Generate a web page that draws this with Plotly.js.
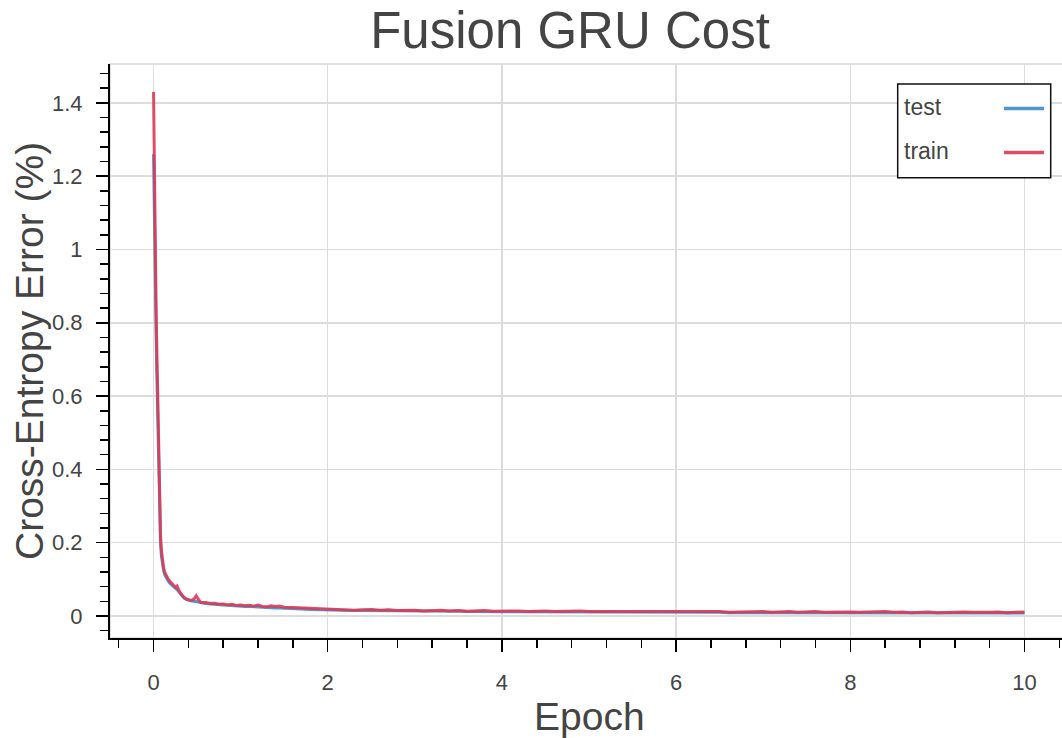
<!DOCTYPE html>
<html>
<head>
<meta charset="utf-8">
<script src="https://cdn.plot.ly/plotly-3.0.1.min.js"></script>
<style>
html, body { margin: 0; padding: 0; overflow: hidden; background: #fff; }
#chart { width: 1068px; height: 738px; }
</style>
</head>
<body>
<div id="chart"></div>
<script>
// Epoch positions
const epochs = [0,0.005,0.01,0.015,0.02,0.025,0.03,0.035,0.04,0.045,0.05,0.055,0.06,0.065,0.07,0.075,0.08,0.09,0.1,0.115,0.13,0.15,0.17,0.19,0.21,0.23,0.25,0.27,0.29,0.31,0.33,0.35,0.38,0.41,0.44,0.47,0.49,0.51,0.54,0.57,0.6,0.65,0.7,0.75,0.8,0.85,0.9,0.95,1.0,1.05,1.1,1.15,1.2,1.25,1.3,1.35,1.4,1.45,1.5,1.6,1.7,1.8,1.9,2.0,
2.1,2.2,2.3,2.4,2.5,2.6,2.7,2.8,2.9,3.0,
3.1,3.2,3.3,3.4,3.5,3.6,3.7,3.8,3.9,4.0,
4.1,4.2,4.3,4.4,4.5,4.6,4.7,4.8,4.9,5.0,
5.1,5.2,5.3,5.4,5.5,5.6,5.7,5.8,5.9,6.0,
6.1,6.2,6.3,6.4,6.5,6.6,6.7,6.8,6.9,7.0,
7.1,7.2,7.3,7.4,7.5,7.6,7.7,7.8,7.9,8.0,
8.1,8.2,8.3,8.4,8.5,8.6,8.7,8.8,8.9,9.0,
9.1,9.2,9.3,9.4,9.5,9.6,9.7,9.8,9.9,10.0];

// Training cost
const trainCost = [1.430,1.300,1.180,1.080,1.000,0.910,0.830,0.760,0.700,0.630,0.560,0.480,0.410,0.350,0.300,0.255,0.220,0.180,0.155,0.132,0.118,0.108,0.100,0.094,0.090,0.084,0.079,0.082,0.070,0.062,0.056,0.051,0.046,0.044,0.043,0.048,0.055,0.047,0.038,0.036,0.037,0.034,0.035,0.032,0.033,0.030,0.032,0.029,0.030,0.028,0.029,0.027,0.030,0.026,0.025,0.028,0.026,0.027,0.024,0.023,0.022,0.020,0.019,0.018,
0.017,0.018,0.016,0.017,0.018,0.016,0.017,0.015,0.016,0.016,
0.014,0.015,0.016,0.014,0.015,0.013,0.014,0.015,0.013,0.014,
0.013,0.014,0.012,0.013,0.014,0.012,0.013,0.012,0.014,0.012,
0.012,0.013,0.011,0.012,0.013,0.011,0.012,0.013,0.011,0.012,
0.011,0.012,0.013,0.011,0.012,0.010,0.011,0.012,0.011,0.012,
0.010,0.011,0.012,0.010,0.011,0.012,0.010,0.011,0.010,0.011,
0.010,0.011,0.010,0.012,0.010,0.011,0.009,0.010,0.011,0.009,
0.010,0.009,0.011,0.010,0.009,0.010,0.011,0.009,0.010,0.011];

// Test cost
const testCost = [1.260,1.150,1.050,0.970,0.900,0.830,0.760,0.690,0.630,0.570,0.500,0.430,0.370,0.310,0.270,0.230,0.200,0.165,0.145,0.125,0.112,0.102,0.095,0.089,0.085,0.080,0.076,0.072,0.066,0.060,0.054,0.049,0.045,0.042,0.041,0.040,0.039,0.038,0.036,0.035,0.034,0.033,0.032,0.031,0.030,0.029,0.029,0.028,0.027,0.026,0.026,0.025,0.025,0.024,0.023,0.023,0.022,0.022,0.021,0.020,0.019,0.018,0.017,0.016,
0.016,0.016,0.015,0.015,0.015,0.015,0.014,0.014,0.014,0.014,
0.013,0.013,0.013,0.013,0.013,0.012,0.012,0.012,0.012,0.012,
0.012,0.012,0.011,0.011,0.011,0.011,0.011,0.011,0.011,0.011,
0.011,0.011,0.010,0.010,0.010,0.010,0.010,0.010,0.010,0.010,
0.010,0.010,0.010,0.010,0.010,0.009,0.009,0.009,0.009,0.009,
0.009,0.009,0.009,0.009,0.009,0.009,0.009,0.009,0.009,0.009,
0.009,0.009,0.009,0.008,0.008,0.008,0.008,0.008,0.008,0.008,
0.008,0.008,0.008,0.008,0.008,0.008,0.008,0.008,0.008,0.008];

const seriesNames = ["test", "train"];
const seriesColors = ["#3a8cc9", "#dc3a55"];
const xTickVals = [0, 2, 4, 6, 8, 10];
const yTickVals = [0, 0.2, 0.4, 0.6, 0.8, 1.0, 1.2, 1.4];
const yTickText = ["0", "0.2", "0.4", "0.6", "0.8", "1", "1.2", "1.4"];
const chartTitle = "Fusion GRU Cost";
const xTitle = "Epoch";
const yTitle = "Cross-Entropy Error (%)";

const FONT = "Liberation Sans, Arial, Helvetica, sans-serif";
const TXT = "#444444";

const traces = [
  { x: epochs, y: testCost, type: "scatter", mode: "lines", name: seriesNames[0],
    line: { color: seriesColors[0], width: 3 }, opacity: 0.9, showlegend: false },
  { x: epochs, y: trainCost, type: "scatter", mode: "lines", name: seriesNames[1],
    line: { color: seriesColors[1], width: 3 }, opacity: 0.9, showlegend: false }
];

// plot area: x 110..1068, y 64..638
const L = 110, R = 1068, T = 64, B = 638;
const px = v => (v - L) / (R - L);
const py = v => (B - v) / (B - T);

const layout = {
  width: 1068, height: 738,
  margin: { l: L, r: 0, t: T, b: 738 - B, pad: 0 },
  paper_bgcolor: "#ffffff", plot_bgcolor: "#ffffff",
  font: { family: FONT, color: TXT },
  showlegend: false,
  title: { text: chartTitle, font: { family: FONT, size: 51, color: TXT },
           x: 570 / 1068, xanchor: "center", xref: "container",
           y: 1 - 30 / 738, yanchor: "middle", yref: "container" },
  xaxis: {
    range: [-0.5, 10.5], tickvals: xTickVals, ticktext: xTickVals.map(String),
    showline: true, linecolor: "#000", linewidth: 2,
    ticks: "outside", ticklen: 12, tickwidth: 1.5, tickcolor: "#000",
    ticklabelstandoff: 12,
    tickfont: { family: FONT, size: 22, color: TXT },
    showgrid: true, gridcolor: "#dcdcdc", gridwidth: 1.5, zeroline: false,
    minor: { dtick: 0.4, tick0: 0, ticks: "outside", ticklen: 8, tickwidth: 1.5, tickcolor: "#000", showgrid: false }
  },
  yaxis: {
    range: [-0.06, 1.506], tickvals: yTickVals, ticktext: yTickText,
    showline: true, linecolor: "#000", linewidth: 2,
    ticks: "outside", ticklen: 12, tickwidth: 1.5, tickcolor: "#000",
    ticklabelstandoff: 9,
    tickfont: { family: FONT, size: 22, color: TXT },
    showgrid: true, gridcolor: "#dcdcdc", gridwidth: 1.5, zeroline: false,
    minor: { dtick: 0.04, tick0: 0, ticks: "outside", ticklen: 8, tickwidth: 1.5, tickcolor: "#000", showgrid: false }
  },
  shapes: [
    { type: "rect", xref: "paper", yref: "paper", x0: 0, x1: 1, y0: 0, y1: 1,
      line: { color: "#e0e0e0", width: 2 }, layer: "below" },
    { type: "rect", xref: "paper", yref: "paper", x0: px(897.7), x1: px(1050.7), y0: py(177.7), y1: py(84),
      line: { color: "#111", width: 1.5 }, fillcolor: "#ffffff", layer: "above" },
    { type: "line", xref: "paper", yref: "paper", x0: px(1004), x1: px(1044), y0: py(108.5), y1: py(108.5),
      line: { color: seriesColors[0], width: 3.5 }, opacity: 0.9 },
    { type: "line", xref: "paper", yref: "paper", x0: px(1004), x1: px(1044), y0: py(152.5), y1: py(152.5),
      line: { color: seriesColors[1], width: 3.5 }, opacity: 0.9 }
  ],
  annotations: [
    { text: seriesNames[0], xref: "paper", yref: "paper", x: px(902), y: py(107), xanchor: "left", yanchor: "middle",
      showarrow: false, font: { family: FONT, size: 23, color: TXT } },
    { text: seriesNames[1], xref: "paper", yref: "paper", x: px(902), y: py(151), xanchor: "left", yanchor: "middle",
      showarrow: false, font: { family: FONT, size: 23, color: TXT } },
    { text: xTitle, xref: "paper", yref: "paper", x: 0.5, y: py(716), xanchor: "center", yanchor: "middle",
      showarrow: false, font: { family: FONT, size: 39, color: TXT } },
    { text: yTitle, xref: "paper", yref: "paper", x: px(29), y: 0.5, xanchor: "center", yanchor: "middle",
      textangle: -90, showarrow: false, font: { family: FONT, size: 39, color: TXT } }
  ]
};

Plotly.newPlot("chart", traces, layout, { staticPlot: true, displayModeBar: false });
</script>
</body>
</html>
